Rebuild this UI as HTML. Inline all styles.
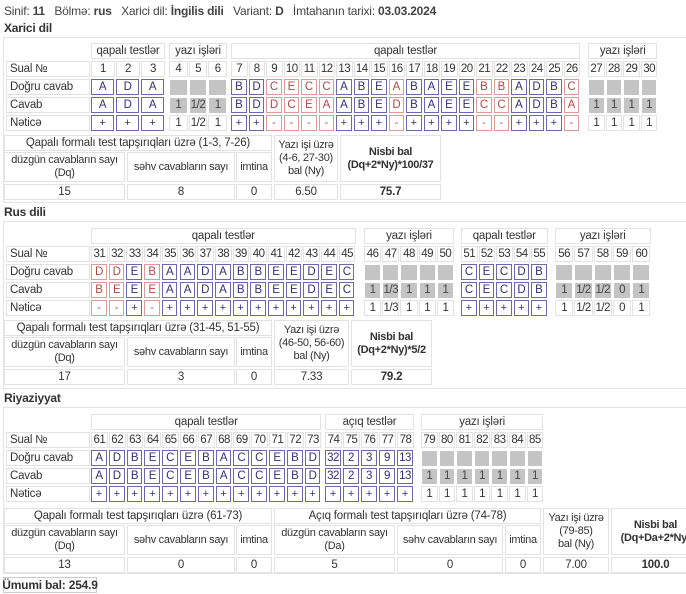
<!DOCTYPE html>
<html><head><meta charset="utf-8">
<style>
*{box-sizing:border-box;margin:0;padding:0}
body{width:686px;height:594px;background:#fff;position:relative;overflow:hidden;font-family:"Liberation Sans",sans-serif;font-size:11.5px;letter-spacing:-0.2px;color:#333}
.a{position:absolute;display:flex;align-items:center;justify-content:center;text-align:center;line-height:13px;white-space:nowrap}
.lc{border:1px solid #e2e2e2}
.bx{border:1px solid #e4e4e4}
.ok{border:1px solid #6a6aaa;color:#30307a}
.bad{border:1px solid #dc9a9a;color:#b04848}
.gr{background:#c4c4c4;border:1px solid #fff}
.gy{background:#c4c4c4;border:1px solid #fff;color:#444}
.t{position:absolute;font-weight:bold;font-size:12px}
</style></head><body>
<div class="t" style="left:4px;top:4px;font-weight:normal;color:#444">Sinif: <b>11</b>&nbsp;&nbsp; Bölmə: <b>rus</b>&nbsp;&nbsp; Xarici dil: <b>İngilis dili</b>&nbsp;&nbsp; Variant: <b>D</b>&nbsp;&nbsp; İmtahanın tarixi: <b>03.03.2024</b></div>
<script>
// ---- data ----
const xCorrect1=["A","D","A"], xAns1=["A","D","A"], xY1=["1","1/2","1"];
const xCorrect2=["B","D","C","E","C","C","A","B","E","A","B","A","E","E","B","B","A","D","B","C"];
const xAns2=["B","D","D","C","E","A","A","B","E","D","B","A","E","E","C","C","A","D","B","A"];
const xY2=["1","1","1","1"];
const rCorrect1=["D","D","E","B","A","A","D","A","B","B","E","E","D","E","C"];
const rAns1=["B","E","E","E","A","A","D","A","B","B","E","E","D","E","C"];
const rY1=["1","1/3","1","1","1"];
const rCorrect2=["C","E","C","D","B"], rAns2=["C","E","C","D","B"];
const rY2=["1","1/2","1/2","0","1"];
const mCorrect1=["A","D","B","E","C","E","B","A","C","C","E","B","D"];
const mAns1=["A","D","B","E","C","E","B","A","C","C","E","B","D"];
const mCorrect2=["32","2","3","9","13"], mAns2=["32","2","3","9","13"];
const mY=["1","1","1","1","1","1","1"];
const sumX=["15","8","0","6.50","75.7"], sumR=["17","3","0","7.33","79.2"];
const sumM=["13","0","0","5","0","0","7.00","100.0"];

function el(x,y,w,h,txt,cls,name,extra){
  const d=document.createElement('div');
  d.className='a '+cls;
  d.style.left=x+'px';d.style.top=y+'px';d.style.width=w+'px';d.style.height=h+'px';
  if(extra) d.style.cssText+=extra;
  d.innerHTML=txt;
  
  
  document.body.appendChild(d);return d;
}
function section(box,rows,groups){
  el(3,box[0],690,box[1]-box[0],'','bx','section-box','border-right:none');
  const labels=['Sual №','Doğru cavab','Cavab','Nəticə'];
  labels.forEach((l,i)=>el(6,rows[i+1],84,16,l,'lc','row-label','justify-content:flex-start;padding-left:3px'));
  groups.forEach(g=>{
    el(g.x,rows[0],g.w*g.n-1,16,g.q?'qapalı testlər':(g.o?'açıq testlər':'yazı işləri'),'lc','group-header');
    for(let i=0;i<g.n;i++){
      const x=g.x+i*g.w, w=g.w-2;
      el(x,rows[1],w+1,16,String(g.start+i),'lc','question-number','letter-spacing:-0.5px');
      if(g.q||g.o){
        const good=g.c[i]===g.a[i];
        const c=good?'ok':'bad';
        el(x,rows[2],w,16,g.c[i],c,'correct-answer','letter-spacing:-0.5px');
        el(x,rows[3],w,16,g.a[i],c,'given-answer','letter-spacing:-0.5px');
        el(x,rows[4],w,16,good?'+':'-',c,'result-mark','font-size:11px');
      } else {
        el(x,rows[2],w+1,17,'','gr','correct-answer');
        el(x,rows[3],w+1,17,g.v[i],'gy','written-score','letter-spacing:-0.5px');
        el(x,rows[4],w+1,16,g.v[i],'lc','result-score','letter-spacing:-0.5px');
      }
    }
  });
}
function summary(y,cols,titles,heads,vals){
  titles.forEach(t=>el(t[0],y,t[1]-t[0],16,t[2],'lc','summary-title'));
  heads.forEach((h,i)=>{
    const c=cols[i];
    const tall=h[1];
    el(c[0],tall?y:y+17,c[1]-c[0],tall?47:30,h[0],'lc','summary-header',(h[2]?'font-weight:bold;':'')+'font-size:11px;letter-spacing:-0.3px');
    el(c[0],y+49,c[1]-c[0],16,vals[i],'lc','summary-value',h[2]?'font-weight:bold':'');
  });
}
</script>
<div class="t" style="left:4px;top:21px">Xarici dil</div>
<div class="t" style="left:4px;top:205px">Rus dili</div>
<div class="t" style="left:4px;top:391px">Riyaziyyat</div>
<script>
section([37,203],[43,61,79,97,115],[
 {q:1,start:1,n:3,x:91,w:25,c:xCorrect1,a:xAns1},
 {start:4,n:3,x:169,w:19.7,v:xY1},
 {q:1,start:7,n:20,x:231,w:17.5,c:xCorrect2,a:xAns2},
 {start:27,n:4,x:588,w:17.6,v:xY2}]);
summary(135,[[4,125],[127,235],[236,272],[274,338],[340,441]],
 [[4,272,'Qapalı formalı test tapşırıqları üzrə (1-3, 7-26)']],
 [['düzgün cavabların sayı<br>(Dq)'],['səhv cavabların sayı'],['imtina'],['Yazı işi üzrə<br>(4-6, 27-30)<br>bal (Ny)',1],['Nisbi bal<br>(Dq+2*Ny)*100/37',1,1]],sumX);

section([221,389],[228,246,264,282,300],[
 {q:1,start:31,n:15,x:91,w:17.7,c:rCorrect1,a:rAns1},
 {start:46,n:5,x:364,w:18.2,v:rY1},
 {q:1,start:51,n:5,x:461,w:17.5,c:rCorrect2,a:rAns2},
 {start:56,n:5,x:555,w:19.3,v:rY2}]);
summary(320,[[4,125],[127,235],[236,272],[274,349],[351,432]],
 [[4,272,'Qapalı formalı test tapşırıqları üzrə (31-45, 51-55)']],
 [['düzgün cavabların sayı<br>(Dq)'],['səhv cavabların sayı'],['imtina'],['Yazı işi üzrə<br>(46-50, 56-60)<br>bal (Ny)',1],['Nisbi bal<br>(Dq+2*Ny)*5/2',1,1]],sumR);

section([407,574],[414,432,450,468,486],[
 {q:1,start:61,n:13,x:91,w:17.8,c:mCorrect1,a:mAns1},
 {o:1,start:74,n:5,x:325,w:18,c:mCorrect2,a:mAns2},
 {start:79,n:7,x:421,w:17.6,v:mY}]);
summary(508,[[4,125],[127,235],[236,272],[274,395],[397,503],[505,541],[543,609],[611,700]],
 [[4,272,'Qapalı formalı test tapşırıqları üzrə (61-73)'],[274,541,'Açıq formalı test tapşırıqları üzrə (74-78)']],
 [['düzgün cavabların sayı<br>(Dq)'],['səhv cavabların sayı'],['imtina'],['düzgün cavabların sayı<br>(Da)'],['səhv cavabların sayı'],['imtina'],['Yazı işi üzrə<br>(79-85)<br>bal (Ny)',1],['Nisbi bal<br>(Dq+Da+2*Ny)',1,1]],sumM);
el(3,577,94,16,'Ümumi bal: 254.9','lc','total-score','font-weight:bold;border-color:#ccc;font-size:12px');
</script>
</body></html>
